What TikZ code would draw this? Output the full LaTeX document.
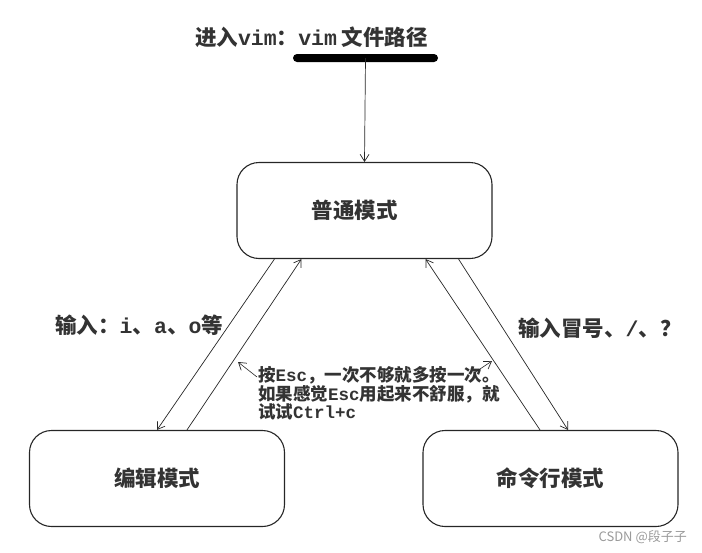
\documentclass[tikz,border=0pt]{standalone}
\usepackage{fontspec}
\setmainfont{Noto Sans CJK SC}
\newfontfamily\lat{Liberation Mono}
\usetikzlibrary{arrows.meta,calc}
\definecolor{txt}{HTML}{333333}
\definecolor{wm}{HTML}{9A9A9A}
\tikzset{
  modebox/.style={draw=black!85, line width=1.1pt, rounded corners=22pt,
    minimum width=255pt, minimum height=96pt, inner sep=0pt,
    font=\fontsize{21.5}{24}\selectfont\bfseries, text=txt},
  flow/.style={draw=black!85, line width=0.7pt,
    -{Straight Barb[length=7pt,width=9pt,line width=0.7pt]}},
  edgelbl/.style={font=\fontsize{21.5}{22}\selectfont\bfseries, text=txt, inner sep=0pt},
  notelbl/.style={font=\fontsize{17.5}{16.6}\selectfont\bfseries, text=txt,
    align=left, inner sep=0pt},
}
\begin{document}
\begin{tikzpicture}[x=1pt,y=-1pt]
\useasboundingbox (0,0) rectangle (702,552);
% title and bar
\node[font=\fontsize{21.5}{24}\selectfont\bfseries, text=txt, inner sep=0pt] (title) at (311.5,37) {进入{\lat vim}：{\lat vim} 文件路径};
\node[fill=black, rounded corners=4pt, minimum width=145pt, minimum height=8pt, inner sep=0pt] (bar) at (365.5,58) {};
% boxes
\node[modebox, label={[font=\fontsize{21.5}{24}\selectfont\bfseries, text=txt, xshift=-10pt]center:普通模式}] (normal) at (364.5,210.5) {};
\node[modebox] (edit) at (157,478.5) {编辑模式};
\node[modebox] (cmd) at (550.5,478.5) {命令行模式};
% entry arrow
\draw[flow] (bar.center) -- (normal.north);
% left pair
\draw[flow] ($(normal.south west)+(38,0)$) -- (edit.north);
\draw[flow] ($(edit.north)+(30,0)$) -- ($(normal.south west)+(65,0)$);
% right pair
\draw[flow] ($(cmd.north)+(-10.5,0)$) -- ($(normal.south east)+(-67,0)$);
\draw[flow] ($(normal.south east)+(-34,0)$) -- ($(cmd.north)+(17.5,0)$);
% labels
\node[edgelbl, anchor=west] (lblL) at (55,325) {输入：{\lat i}、{\lat a}、{\lat o}等};
\node[edgelbl, anchor=west] (lblR) at (518,328) {输入冒号、{\lat /}、？};
\node[notelbl, anchor=north west] (note) at (258,366) {按{\lat Esc}，一次不够就多按一次。\\如果感觉{\lat Esc}用起来不舒服，就\\试试{\lat Ctrl+c}};
% annotation pointers
\coordinate (tipL) at (238,362);
\coordinate (tipR) at (492,361);
\coordinate (tailL) at (257,377);
\coordinate (tailR) at (474,373);
\draw[flow, line width=0.6pt] (tailL) -- (tipL);
\draw[flow, line width=0.6pt] (tailR) -- (tipR);
% watermark
\node[font=\fontsize{13}{15}\selectfont, text=wm, anchor=east, inner sep=0pt] (wmark) at (687,537) {CSDN @段子子};
\end{tikzpicture}
\end{document}
